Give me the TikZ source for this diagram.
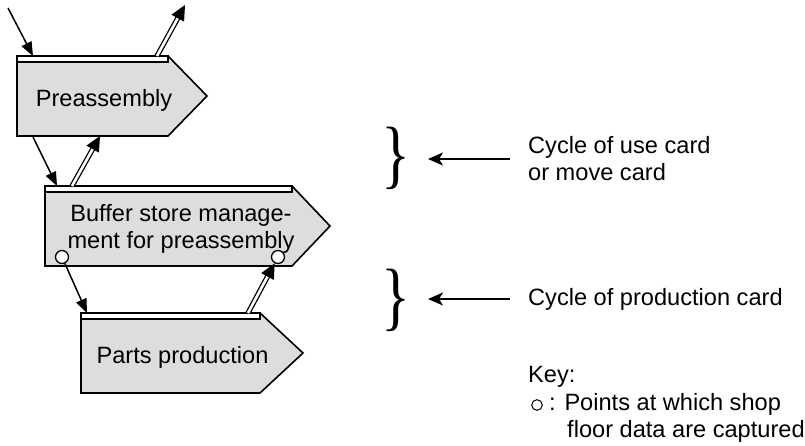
\documentclass[tikz,border=0pt]{standalone}
\usepackage{fontspec}
\usepackage{graphicx}
\setmainfont{Liberation Sans}
\newfontfamily\bracefont{Liberation Serif}
\usetikzlibrary{arrows.meta}
\definecolor{boxgray}{RGB}{221,221,221}

\begin{document}
\begin{tikzpicture}[x=1pt, y=1pt, font=\fontsize{23.6}{27}\selectfont]
    \tikzset{
        stage/.style={draw=black, fill=boxgray, line width=1.6pt, line join=miter},
        strip/.style={draw=black, fill=white, line width=1.2pt},
        flow/.style={draw=black, line width=1.5pt, -{Triangle[length=14pt, width=11pt]}},
        cardflow/.style={draw=black, line width=1.3pt, double=white, double distance=2.6pt, -{Triangle[length=15pt, width=14pt]}},
        pointer/.style={draw=black, line width=1.5pt, -{Stealth[length=15pt, width=13pt, inset=4pt]}},
        capture/.style={circle, draw=black, fill=white, line width=1.3pt, inner sep=0pt, minimum size=13pt},
        labeltext/.style={inner sep=0pt, anchor=base west},
        bracemark/.style={inner sep=0pt, font=\bracefont\fontsize{75.5}{75.5}\selectfont}
    }
    \useasboundingbox (0,0) rectangle (805,-445);

    % preassembly
    \begin{scope}[shift={(17,-56)}]
        \draw[stage] (0,0) -- (151,0) -- (190,-40) -- (151,-80) -- (0,-80) -- cycle;
        \draw[strip] (0,0) rectangle (151,-6);
        \node[anchor=base, inner sep=0pt] (pre) at (87,-50) {Preassembly};
        \coordinate (pre in) at (16,0);
        \coordinate (pre out) at (140,0);
        \coordinate (pre down) at (16,-81);
        \coordinate (pre up) at (83,-80);
    \end{scope}

    % buffer store
    \begin{scope}[shift={(45,-186)}]
        \draw[stage] (0,0) -- (247,0) -- (285,-40) -- (247,-80) -- (0,-80) -- cycle;
        \draw[strip] (0,0) rectangle (247,-6);
        \node[anchor=base, inner sep=0pt, align=center] (buf) at (136,-62) {Buffer store manage-\\ment for preassembly};
        \coordinate (buf in) at (12,0);
        \coordinate (buf out) at (27,0);
        \node[capture] (cap left) at (17,-71) {};
        \node[capture] (cap right) at (233,-71) {};
    \end{scope}

    % parts production
    \begin{scope}[shift={(81,-313)}]
        \draw[stage] (0,0) -- (179,0) -- (222,-40) -- (179,-80) -- (0,-80) -- cycle;
        \draw[strip] (0,0) rectangle (179,-6);
        \node[anchor=base, inner sep=0pt] (parts) at (101.5,-50) {Parts production};
        \coordinate (parts in) at (6,0);
        \coordinate (parts out) at (167,0);
    \end{scope}

    \coordinate (pre feed) at (8,-8);
    \coordinate (pre ship) at (185,-5);
    \draw[flow] (pre feed) -- (pre in);
    \draw[cardflow] (pre out) -- (pre ship);
    \draw[flow] (pre down) -- (buf in);
    \draw[cardflow] (buf out) -- (pre up);
    \draw[flow] (cap left) -- (parts in);
    \draw[cardflow] (parts out) -- (cap right);

    % cycles
    \node[bracemark] (use brace) at (395.8,-158.4) {\scalebox{0.8}[1]{\}}};
    \node[bracemark] (prod brace) at (395.8,-300) {\scalebox{0.8}[1]{\}}};
    \node[labeltext, align=left] (use cycle) at (528,-180) {Cycle of use card\\or move card};
    \node[labeltext] (prod cycle) at (528,-305) {Cycle of production card};
    \coordinate (use from) at (510,-159);
    \coordinate (use to) at (428,-159);
    \coordinate (prod from) at (510,-299);
    \coordinate (prod to) at (428,-299);
    \draw[pointer] (use from) -- (use to);
    \draw[pointer] (prod from) -- (prod to);

    % key
    \node[labeltext] (key) at (528,-382) {Key:};
    \node[capture, minimum size=10.6pt, line width=1pt] (key mark) at (537,-405) {};
    \node[labeltext] (key line) at (549,-410) {: Points at which shop};
    \node[labeltext] (key line2) at (567,-437) {floor data are captured};
\end{tikzpicture}
\end{document}
